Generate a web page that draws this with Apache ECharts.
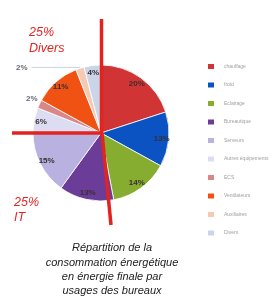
<!DOCTYPE html>
<html><head><meta charset="utf-8">
<script src="https://cdn.jsdelivr.net/npm/echarts@6/dist/echarts.min.js"></script>
<style>html,body{margin:0;padding:0;background:#fff}#c{width:272px;height:300px}</style>
</head><body><div id="c"></div>
<script>
const categories = ['chauffage','froid','Eclairage','Bureautique','Serveurs','Autres équipements','ECS','Ventilateurs','Auxiliaires','Divers'];
const values = [20,13,14,13,15,6,2,11,2,4];
const colors = ['#d03434','#0b52c2','#87ad30','#6b3c98','#b9b1e0','#dcdcf2','#d98888','#f05214','#f5c9b2','#cad5e8'];
const outsideLabels = ['ECS','Auxiliaires'];
const groupNotes = [['25%','Divers'],['25%','IT']];
const titleLines = ['Répartition de la','consommation énergétique','en énergie finale par','usages des bureaux'];

const CX = 101, CY = 133, R = 68;
const chart = echarts.init(document.getElementById('c'), null, {renderer:'canvas'});
const font = '"Liberation Sans", Arial, sans-serif';

const mainData = categories.map((n,i)=>{
  const out = outsideLabels.includes(n);
  const d = {name:n, value:values[i], itemStyle:{color:colors[i]}};
  if (out) {
    d.label = {show:true};
    d.labelLine = n==='Auxiliaires'
      ? {show:true, length:1, length2:48, lineStyle:{color:'#c9d1e2', width:1}}
      : {show:false, length:2, length2:0};
  }
  return d;
});
const labelData = categories.map((n,i)=>({name:n, value:values[i],
  label:{show:!outsideLabels.includes(n)}}));

const red = '#e3231f';
chart.setOption({
  animation:false,
  color: colors,
  title:{text:titleLines.join('\n'), left:107, top:236, textAlign:'center',
    textStyle:{fontFamily:font, fontStyle:'italic', fontWeight:'normal', fontSize:11, lineHeight:14.3, color:'#222'}},
  legend:{orient:'vertical', left:201, top:57, itemWidth:8, itemHeight:7, itemGap:9.5,
    icon:'rect', data:categories, selectedMode:false,
    textStyle:{fontFamily:font, fontSize:5, color:'#a0a0a0', padding:[0,0,0,4]}},
  series:[
    {type:'pie', center:[CX,CY], radius:[0,R], startAngle:90, clockwise:true,
     avoidLabelOverlap:false, silent:true,
     itemStyle:{borderColor:'#fff', borderWidth:0.8},
     label:{show:false, position:'outside', formatter:'{c}%', fontFamily:font, fontSize:8,
       color:'#6a6a7a', fontWeight:'bold', distanceToLabelLine:4},
     labelLayout:function(p){ return outsideLabels.indexOf(categories[p.dataIndex])===0 ? {dx:4, dy:-4} : {}; },
     data: mainData},
    {type:'pie', center:[CX,CY], radius:[48,R], startAngle:90, clockwise:true,
     silent:true, z:3, itemStyle:{color:'rgba(0,0,0,0)'}, legendHoverLink:false,
     label:{position:'inside', formatter:'{c}%', fontFamily:font, fontSize:8, fontWeight:'bold', color:'#3a3030'},
     labelLine:{show:false},
     data: labelData}
  ],
  graphic:[
    {type:'line', z:100, shape:{x1:CX+0.5, y1:19, x2:CX+0.5, y2:CY+1}, style:{stroke:red, lineWidth:3.5}},
    {type:'line', z:100, shape:{x1:12, y1:CY, x2:CX+2, y2:CY}, style:{stroke:red, lineWidth:3.5}},
    {type:'line', z:100, shape:{x1:CX+1, y1:CY, x2:CX+10, y2:225}, style:{stroke:red, lineWidth:3.5}},
    {type:'text', z:100, left:29, top:25, style:{text:groupNotes[0].join('\n'), fill:red,
      font:'italic 12.5px '+font, lineHeight:16}},
    {type:'text', z:100, left:14, top:195, style:{text:groupNotes[1].join('\n'), fill:red,
      font:'italic 12.5px '+font, lineHeight:15}}
  ]
});
</script></body></html>
